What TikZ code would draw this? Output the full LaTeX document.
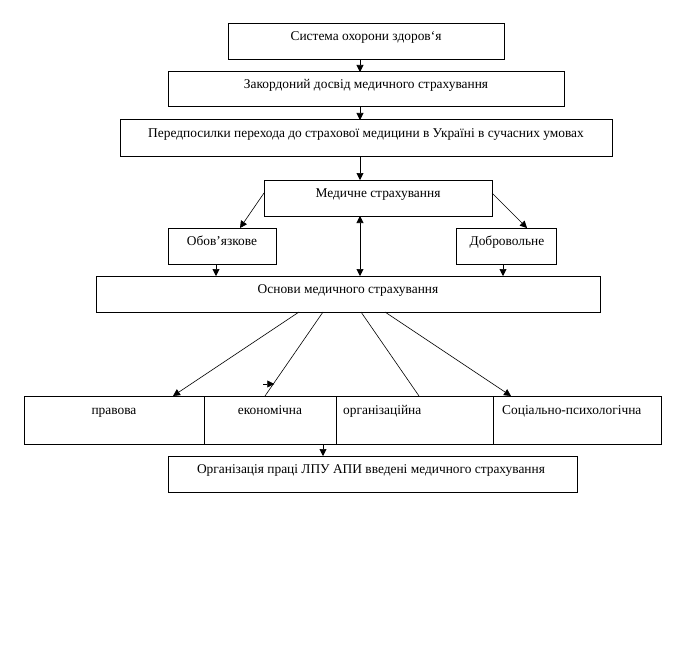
\documentclass[tikz,border=0pt]{standalone}
\usepackage{fontspec}
\setmainfont{Liberation Serif}
\usetikzlibrary{arrows.meta,calc}
\tikzset{
  box/.style={draw, line width=1pt, inner sep=0pt, outer sep=0pt, anchor=north west},
  lbl/.style={font=\fontsize{13.4}{15}\selectfont, inner sep=0pt, anchor=base},
  llbl/.style={lbl, anchor=base west},
  conn/.style={line width=0.6pt},
  arr/.style={conn, -{Triangle[length=7pt,width=7pt]}},
  darr/.style={conn, {Triangle[length=7pt,width=7pt]}-{Triangle[length=7pt,width=7pt]}}
}
\begin{document}
\begin{tikzpicture}[x=1pt,y=-1pt]
\useasboundingbox[fill=white] (0,0) rectangle (697,661);
% boxes
\node[box, minimum width=276pt, minimum height=36pt] (b1) at (228,24) {};
\node[box, minimum width=396pt, minimum height=35pt] (b2) at (168,72) {};
\node[box, minimum width=492pt, minimum height=36pt] (b3) at (120,120) {};
\node[box, minimum width=228pt, minimum height=36pt] (b4) at (264,180) {};
\node[box, minimum width=108pt, minimum height=36pt] (b5) at (168,228) {};
\node[box, minimum width=100pt, minimum height=36pt] (b6) at (456,228) {};
\node[box, minimum width=504pt, minimum height=36pt] (b7) at (96,276) {};
\node[box, minimum width=180pt, minimum height=48pt] (c1) at (24,396) {};
\node[box, minimum width=132pt, minimum height=48pt] (c2) at (204,396) {};
\node[box, minimum width=157pt, minimum height=48pt] (c3) at (336,396) {};
\node[box, minimum width=168pt, minimum height=48pt] (c4) at (493,396) {};
\node[box, minimum width=409pt, minimum height=36pt] (fin) at (168,456) {};
% labels
\node[lbl] (t1) at (366,41) {Система охорони здоров‘я};
\node[lbl] (t2) at (366,89) {Закордоний досвід медичного страхування};
\node[lbl] (t3) at (366,137) {Передпосилки перехода до страхової медицини в Україні в сучасних умовах};
\node[lbl] (t4) at (378,197) {Медичне страхування};
\node[lbl] (t5) at (222,245) {Обов’язкове};
\node[lbl] (t6) at (507,245) {Добровольне};
\node[lbl] (t7) at (348,293) {Основи медичного страхування};
\node[lbl] (u1) at (114,414) {правова};
\node[lbl] (u2) at (270,414) {економічна};
\node[llbl] (u3) at (343,414) {організаційна};
\node[llbl] (u4) at (502,414) {Соціально-психологічна};
\node[lbl] (t8) at (371,473) {Організація праці ЛПУ АПИ введені медичного страхування};
% connectors
\draw[arr] ([xshift=-6pt]b1.south) -- ([xshift=-6pt]b1.south |- b2.north);
\draw[arr] ([xshift=-6pt]b2.south) -- ([xshift=-6pt]b2.south |- b3.north);
\draw[arr] ([xshift=-6pt]b3.south) -- ([xshift=-6pt]b3.south |- b4.north);
\draw[arr] ([yshift=-13pt]b4.north west) -- ([xshift=18pt]b5.north);
\draw[arr] ([yshift=-13pt]b4.north east) -- ([xshift=21pt]b6.north);
\draw[darr] ([xshift=-18pt]b4.south) -- ([xshift=-18pt]b4.south |- b7.north);
\draw[arr] ([xshift=-6pt]b5.south) -- ([xshift=-6pt]b5.south |- b7.north);
\draw[arr] ([xshift=-3pt]b6.south) -- ([xshift=-3pt]b6.south |- b7.north);
\draw[arr] ([xshift=-49pt]b7.south) -- ([xshift=59pt]c1.north);
\draw[conn] ([xshift=-25pt]b7.south) -- ([xshift=-5pt]c2.north)
  coordinate[pos=0.857] (m);
\draw[arr] ([xshift=-10pt]m) -- ([xshift=1pt]m);
\draw[conn] ([xshift=13pt]b7.south) -- ([xshift=4.5pt]c3.north);
\draw[arr] ([xshift=37pt]b7.south) -- ([xshift=-66pt]c4.north);
\draw[arr] ([xshift=-13pt]c2.south east) -- ([xshift=-13pt]c2.south east |- fin.north);
\end{tikzpicture}
\end{document}
